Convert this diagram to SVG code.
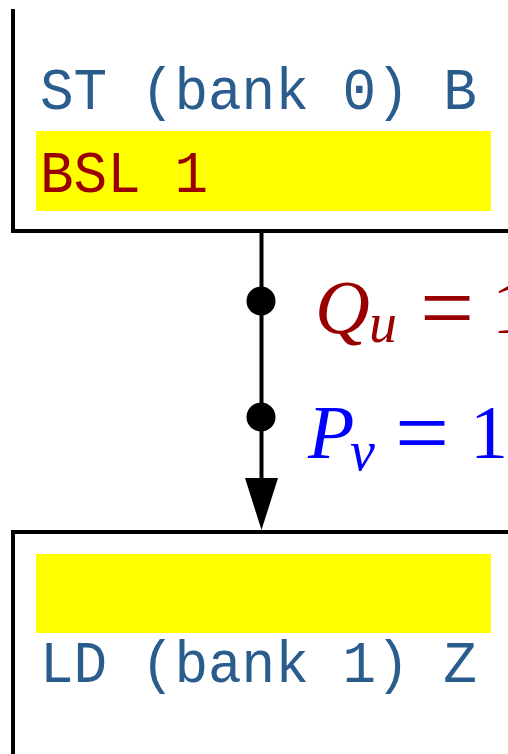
<svg xmlns="http://www.w3.org/2000/svg" width="508" height="754" viewBox="0 0 508 754">
<style>
.box{fill:none;stroke:#000;stroke-width:4}
.hl{fill:#ffff00}
.mono{font-family:"Liberation Mono",monospace;font-size:56px}
.blue{fill:#2b5c8e}
.red{fill:#990000}
.m{font-family:"Liberation Serif",serif;font-size:76px}
.it{font-style:italic}
.sub{font-family:"Liberation Serif",serif;font-size:56px;font-style:italic}
.eq{font-family:"Liberation Serif",serif;font-size:96px}
</style>
<defs>
<marker id="arrow" markerUnits="userSpaceOnUse" markerWidth="34" markerHeight="52" refX="17" refY="52" orient="auto-start-reverse" viewBox="0 0 34 52">
<path d="M0,0 L34,0 L17,52 Z" fill="#000" transform="rotate(0)"/>
</marker>
</defs>
<g id="node-st">
<polyline class="box" points="13,9 13,231 508,231"/>
<text class="mono blue" x="40" y="109" transform="translate(0,109) scale(1,1.07) translate(0,-109)">ST (bank 0) B</text>
<rect class="hl" x="36" y="131" width="455" height="80"/>
<text class="mono red" x="40" y="192" transform="translate(0,192) scale(1,1.07) translate(0,-192)">BSL 1</text>
</g>
<g id="node-ld">
<polyline class="box" points="508,532 13,532 13,754"/>
<rect class="hl" x="36" y="554" width="455" height="79"/>
<text class="mono blue" x="40" y="682" transform="translate(0,682) scale(1,1.07) translate(0,-682)">LD (bank 1) Z</text>
</g>
<g id="connectors">
<line x1="261.5" y1="231" x2="261.5" y2="480" stroke="#000" stroke-width="4"/>
<path d="M245,478 L278,478 L261.5,530 Z" fill="#000"/>
<circle cx="261" cy="301" r="14.5" fill="#000"/>
<circle cx="261" cy="417" r="14.5" fill="#000"/>
<g id="label-q" class="red">
<text class="m it" x="315" y="333">Q</text>
<text class="sub" x="369" y="342">u</text>
<text class="eq" x="420" y="340">=</text>
<text class="m" x="492" y="333">1</text>
</g>
<g id="label-p" fill="#0000ff">
<text class="m it" x="308" y="458">P</text>
<text class="sub" x="350" y="470">v</text>
<text class="eq" x="395" y="465">=</text>
<text class="m" x="470" y="458">1</text>
</g>
</g>
</svg>
